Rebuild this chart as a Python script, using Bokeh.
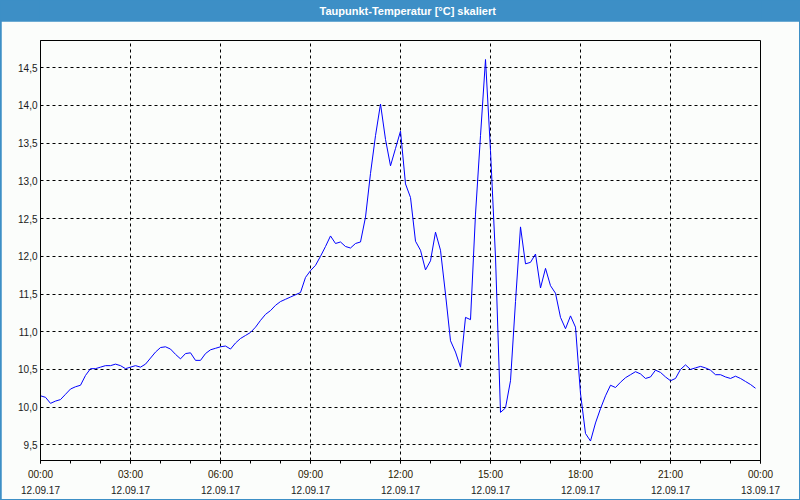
from bokeh.plotting import figure
from bokeh.models import Range1d, FixedTicker, LinearAxis, Label
from bokeh.layouts import column
from bokeh.embed import file_html
from bokeh.resources import INLINE

title_text = "Taupunkt-Temperatur [°C] skaliert"
unit_text = "°C"

# 10-minute samples, 00:00 .. 23:50 (minutes after midnight)
minutes = list(range(0, 1440, 10))
dewpoint = [
    10.15, 10.13, 10.05, 10.08, 10.10, 10.17, 10.24, 10.27, 10.29, 10.42,
    10.51, 10.51, 10.53, 10.55, 10.55, 10.57, 10.55, 10.51, 10.53, 10.55,
    10.53, 10.57, 10.65, 10.73, 10.79, 10.80, 10.77, 10.70, 10.64, 10.71,
    10.72, 10.62, 10.62, 10.71, 10.76, 10.78, 10.80, 10.81, 10.77, 10.85,
    10.91, 10.95, 10.99, 11.06, 11.15, 11.23, 11.28, 11.35, 11.40, 11.43,
    11.46, 11.49, 11.52, 11.72, 11.81, 11.88, 12.00, 12.13, 12.27, 12.17,
    12.19, 12.13, 12.11, 12.17, 12.19, 12.52, 13.10, 13.60, 14.02, 13.55,
    13.20, 13.43, 13.66, 12.96, 12.78, 12.20, 12.08, 11.82, 11.94, 12.32,
    12.08, 11.50, 10.88, 10.73, 10.53, 11.19, 11.16, 12.56, 13.60, 14.61,
    13.40, 11.99, 9.93, 9.99, 10.35, 11.40, 12.39, 11.90, 11.92, 12.03,
    11.58, 11.84, 11.61, 11.51, 11.19, 11.04, 11.21, 11.06, 10.18, 9.65,
    9.55, 9.79, 9.98, 10.15, 10.29, 10.26, 10.33, 10.39, 10.43, 10.47,
    10.44, 10.38, 10.40, 10.49, 10.46, 10.40, 10.35, 10.38, 10.50, 10.56,
    10.50, 10.52, 10.54, 10.52, 10.49, 10.43, 10.43, 10.40, 10.38, 10.41,
    10.38, 10.34, 10.30, 10.25,
]

x_tick_hours = [0, 3, 6, 9, 12, 15, 18, 21, 24]
x_time_labels = ["00:00", "03:00", "06:00", "09:00", "12:00", "15:00", "18:00", "21:00", "00:00"]
x_date_labels = ["12.09.17"] * 8 + ["13.09.17"]
y_tick_values = [9.5, 10.0, 10.5, 11.0, 11.5, 12.0, 12.5, 13.0, 13.5, 14.0, 14.5]
y_tick_labels = ["9,5", "10,0", "10,5", "11,0", "11,5", "12,0", "12,5", "13,0", "13,5", "14,0", "14,5"]

hours = [m / 60 for m in minutes]

BLUE = "#3d8fc6"
BG = "#fbfdfb"
FONT = "Liberation Sans"

# ---- title bar ----
top = figure(width=800, height=21, output_backend="svg", toolbar_location=None,
             x_range=Range1d(0, 800), y_range=Range1d(0, 21),
             x_axis_type=None, y_axis_type=None, min_border=0)
top.background_fill_color = BLUE
top.border_fill_color = BLUE
top.outline_line_color = None
top.grid.visible = False
top.add_layout(Label(x=408, y=10.5, text=title_text, text_align="center",
                     text_baseline="middle", text_color="white",
                     text_font=FONT, text_font_size="11px", text_font_style="bold"))

# ---- main chart ----
p = figure(width=798, height=478, output_backend="svg", toolbar_location=None,
           x_range=Range1d(0, 24), y_range=Range1d(9.292, 14.862),
           min_border_left=39, min_border_right=39, min_border_top=19, min_border_bottom=39)
p.margin = (0, 1, 1, 1)
p.background_fill_color = BG
p.border_fill_color = BG
p.outline_line_color = "black"
p.outline_line_width = 1

p.line(hours, dewpoint, line_color="#0000ff", line_width=1)

# grids
p.xgrid.ticker = FixedTicker(ticks=x_tick_hours[1:-1])
p.ygrid.ticker = FixedTicker(ticks=y_tick_values)
for g in (p.xgrid, p.ygrid):
    g.grid_line_color = "black"
    g.grid_line_dash = "3 3"
    g.grid_line_width = 1

# y axis
ya = p.yaxis[0]
ya.ticker = FixedTicker(ticks=y_tick_values)
ya.major_label_overrides = dict(zip(y_tick_values, y_tick_labels))
ya.major_tick_in = 0
ya.major_tick_out = 0
ya.minor_tick_line_color = None
ya.major_label_standoff = 3
ya.axis_line_color = "black"
ya.major_label_text_font = FONT
ya.major_label_text_font_size = "10px"
ya.major_label_text_color = "#1a1a1a"

# bottom axis (times)
xa = p.xaxis[0]
xa.ticker = FixedTicker(ticks=x_tick_hours, minor_ticks=list(range(25)))
xa.major_label_overrides = dict(zip(x_tick_hours, x_time_labels))
xa.major_tick_in = 0
xa.major_tick_out = 3
xa.minor_tick_in = 0
xa.minor_tick_out = 3
xa.major_label_standoff = 5
xa.axis_line_color = "black"
xa.major_label_text_font = FONT
xa.major_label_text_font_size = "10px"
xa.major_label_text_color = "#2a2000"

# second bottom axis (dates)
xd = LinearAxis(ticker=FixedTicker(ticks=x_tick_hours))
xd.major_label_overrides = dict(zip(x_tick_hours, x_date_labels))
xd.axis_line_color = None
xd.major_tick_line_color = None
xd.minor_tick_line_color = None
xd.major_label_standoff = -3
xd.major_label_text_font = FONT
xd.major_label_text_font_size = "10px"
xd.major_label_text_color = "#1a1a1a"
p.add_layout(xd, "below")

# unit label
p.add_layout(Label(x=0, y=14.80, x_offset=-3, text=unit_text, text_align="right",
                   text_baseline="middle", text_font=FONT, text_font_size="10px",
                   text_color="#1a1a1a"))

layout = column(top, p, styles={"background-color": BLUE}, spacing=0)

open("out.html", "w").write(file_html(layout, INLINE))
